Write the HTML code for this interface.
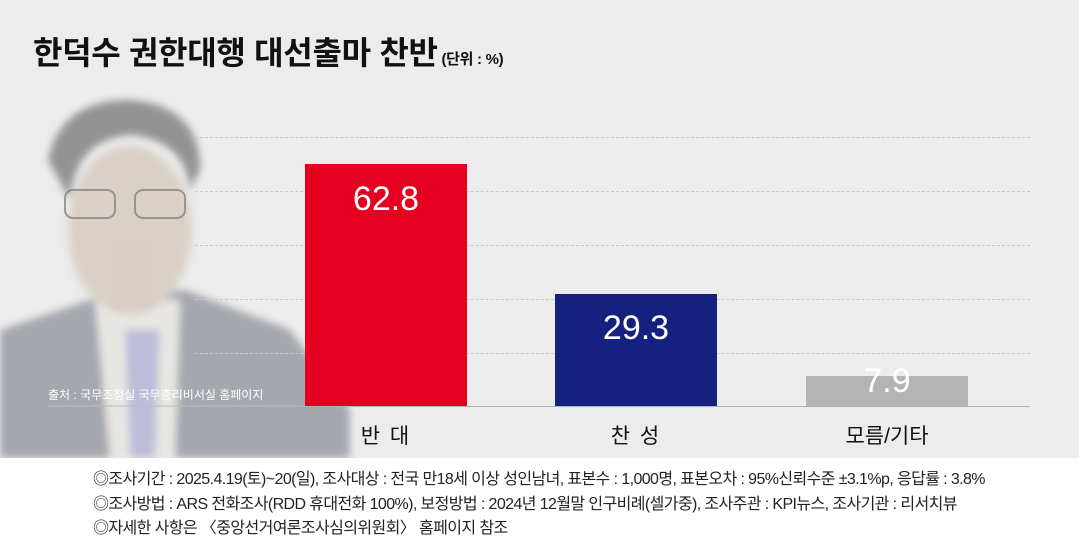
<!DOCTYPE html>
<html><head><meta charset="utf-8"><style>
body{margin:0;width:1079px;height:540px;overflow:hidden;background:#fff;font-family:"Liberation Sans","Noto Sans CJK KR",sans-serif;position:relative}
.top{position:absolute;left:0;top:0;width:1079px;height:458px;background:#ececec;overflow:hidden}
.t{position:absolute;left:33px;top:28px;font-size:32px;font-weight:bold;color:#111;letter-spacing:-0.3px;white-space:nowrap}
.t small{font-size:15px;font-weight:bold}
.g{position:absolute;left:195px;width:835px;border-top:1.5px dashed #c8c8c8}
.bar{position:absolute;width:162px}
.v{position:absolute;width:162px;text-align:center;color:#fff;font-size:34px}
.l{position:absolute;width:162px;text-align:center;font-size:21px;color:#111;top:420px;letter-spacing:2px}
.f{position:absolute;left:93px;font-size:16px;color:#222;letter-spacing:-0.6px;white-space:nowrap}
</style></head><body>
<div class="top">
<svg width="360" height="458" style="position:absolute;left:0;top:0" viewBox="0 0 360 458">
<defs><filter id="b"><feGaussianBlur stdDeviation="4"/></filter></defs>
<g filter="url(#b)" opacity="0.9">
<path d="M0 330 L90 300 L185 290 L290 330 L350 410 L350 458 L0 458Z" fill="#9da0a8"/>
<path d="M95 300 L180 300 L175 458 L110 458Z" fill="#e8e6e2"/>
<path d="M125 330 L160 330 L155 458 L130 458Z" fill="#b8b8d8"/>
<ellipse cx="130" cy="230" rx="62" ry="85" fill="#d8cfc4"/>
<path d="M48 160 Q60 100 130 100 Q200 105 200 170 L190 190 Q185 140 130 135 Q75 140 70 200Z" fill="#8a8a8a"/>
<rect x="112" y="240" width="40" height="70" fill="#d5cbc0"/>
</g>
<g fill="none" stroke="#777" stroke-width="2" opacity="0.7"><rect x="65" y="190" width="50" height="28" rx="8"/><rect x="135" y="190" width="50" height="28" rx="8"/></g>
<text x="48" y="399" font-size="12" fill="#fff" font-family="Liberation Sans,Noto Sans CJK KR,sans-serif">출처 : 국무조정실 국무총리비서실 홈페이지</text>
<line x1="48" y1="406" x2="300" y2="406" stroke="#bbb"/>
</svg>
<div class="t">한덕수 권한대행 대선출마 찬반<small> (단위 : %)</small></div>
<div class="g" style="top:137px"></div><div class="g" style="top:191px"></div><div class="g" style="top:245px"></div><div class="g" style="top:299px"></div><div class="g" style="top:353px"></div>
<div class="bar" style="left:305px;top:164px;height:243px;background:#e60020"></div>
<div class="bar" style="left:555px;top:294px;height:113px;background:#15217f"></div>
<div class="bar" style="left:806px;top:376px;height:31px;background:#b4b4b4"></div>
<div style="position:absolute;left:195px;top:406px;width:835px;height:1px;background:#b0b0b0"></div>
<div class="v" style="left:305px;top:180px">62.8</div>
<div class="v" style="left:555px;top:309px">29.3</div>
<div class="v" style="left:806px;top:362px">7.9</div>
<div class="l" style="left:305px">반 대</div>
<div class="l" style="left:555px">찬 성</div>
<div class="l" style="left:806px;letter-spacing:0">모름/기타</div>
</div>
<div class="f" style="top:465px">◎조사기간 : 2025.4.19(토)~20(일), 조사대상 : 전국 만18세 이상 성인남녀, 표본수 : 1,000명, 표본오차 : 95%신뢰수준 ±3.1%p, 응답률 : 3.8%</div>
<div class="f" style="top:490px">◎조사방법 : ARS 전화조사(RDD 휴대전화 100%), 보정방법 : 2024년 12월말 인구비례(셀가중), 조사주관 : KPI뉴스, 조사기관 : 리서치뷰</div>
<div class="f" style="top:514px">◎자세한 사항은 〈중앙선거여론조사심의위원회〉 홈페이지 참조</div>
</body></html>
